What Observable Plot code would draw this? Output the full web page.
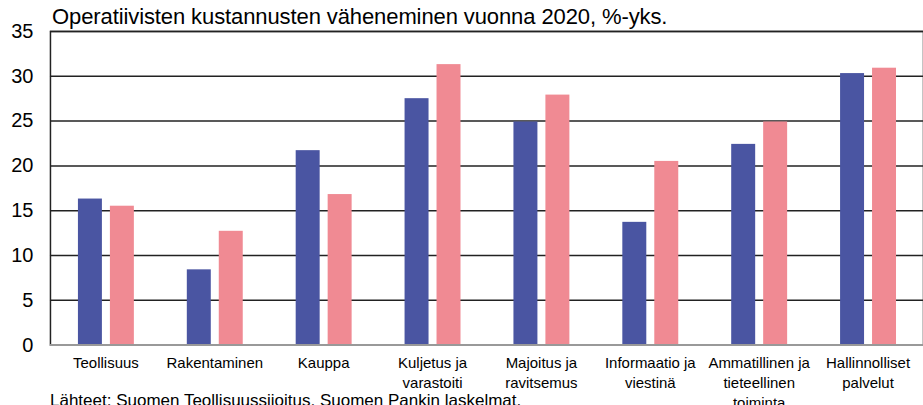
<!DOCTYPE html>
<html><head><meta charset="utf-8">
<script src="https://cdn.jsdelivr.net/npm/d3@7"></script>
<script src="https://cdn.jsdelivr.net/npm/@observablehq/plot@0.6"></script>
<style>
body{margin:0;background:#fff;}
#wrap{position:relative;width:923px;height:405px;overflow:hidden;font-family:"Liberation Sans",Arial,sans-serif;color:#000;}
#chart{position:absolute;left:0;top:0;}
#title{position:absolute;left:52px;top:4px;font-size:22px;letter-spacing:-0.1px;white-space:nowrap;}
#source{position:absolute;left:50px;top:391px;font-size:17px;white-space:nowrap;}
</style></head><body>
<div id="wrap"><div id="chart"></div><div id="title">Operatiivisten kustannusten väheneminen vuonna 2020, %-yks.</div><div id="source">Lähteet: Suomen Teollisuussijoitus, Suomen Pankin laskelmat.</div></div>
<script>
const categories = ["Teollisuus","Rakentaminen","Kauppa","Kuljetus ja\nvarastoiti","Majoitus ja\nravitsemus","Informaatio ja\nviestinä","Ammatillinen ja\ntieteellinen\ntoiminta","Hallinnolliset\npalvelut"];
const seriesNames = ["Sarja 1","Sarja 2"];
const seriesA = [16.3, 8.4, 21.7, 27.5, 24.9, 13.7, 22.4, 30.3];
const seriesB = [15.5, 12.7, 16.8, 31.3, 27.9, 20.5, 24.9, 30.9];
const yTicks = [0,5,10,15,20,25,30,35];
const colors = ["#4A55A2","#F08A93"];

const data = categories.flatMap((c,i)=>[
  {cat:c, s:seriesNames[0], v:seriesA[i]},
  {cat:c, s:seriesNames[1], v:seriesB[i]}
]);

const chart = Plot.plot({
  width:924, height:405,
  marginLeft:50, marginRight:0, marginTop:31, marginBottom:60,
  style:{fontFamily:"Liberation Sans, Arial, sans-serif", fontSize:"15px", background:"transparent", color:"#000", overflow:"visible"},
  x:{domain:categories, padding:0, label:null},
  y:{domain:[0,35], label:null},
  color:{domain:seriesNames, range:colors},
  marks:[
    Plot.ruleY(yTicks.filter(d=>d>0), {stroke:"#222", strokeWidth:1.5}),
    Plot.frame({stroke:"#222", strokeWidth:1.5}),
    Plot.barY(data.filter(d=>d.s===seriesNames[0]), {x:"cat", y:"v", fill:"s", insetLeft:27, insetRight:58}),
    Plot.barY(data.filter(d=>d.s===seriesNames[1]), {x:"cat", y:"v", fill:"s", insetLeft:59, insetRight:26}),
    Plot.ruleY([0], {stroke:"#999", strokeWidth:2}),
    Plot.axisY({ticks:yTicks, tickSize:0, tickPadding:17, fontSize:20, label:null}),
    Plot.axisX({tickSize:0, tickPadding:9, lineHeight:1.33, fontSize:15, label:null})
  ]
});
document.getElementById("chart").appendChild(chart);
</script>
</body></html>
